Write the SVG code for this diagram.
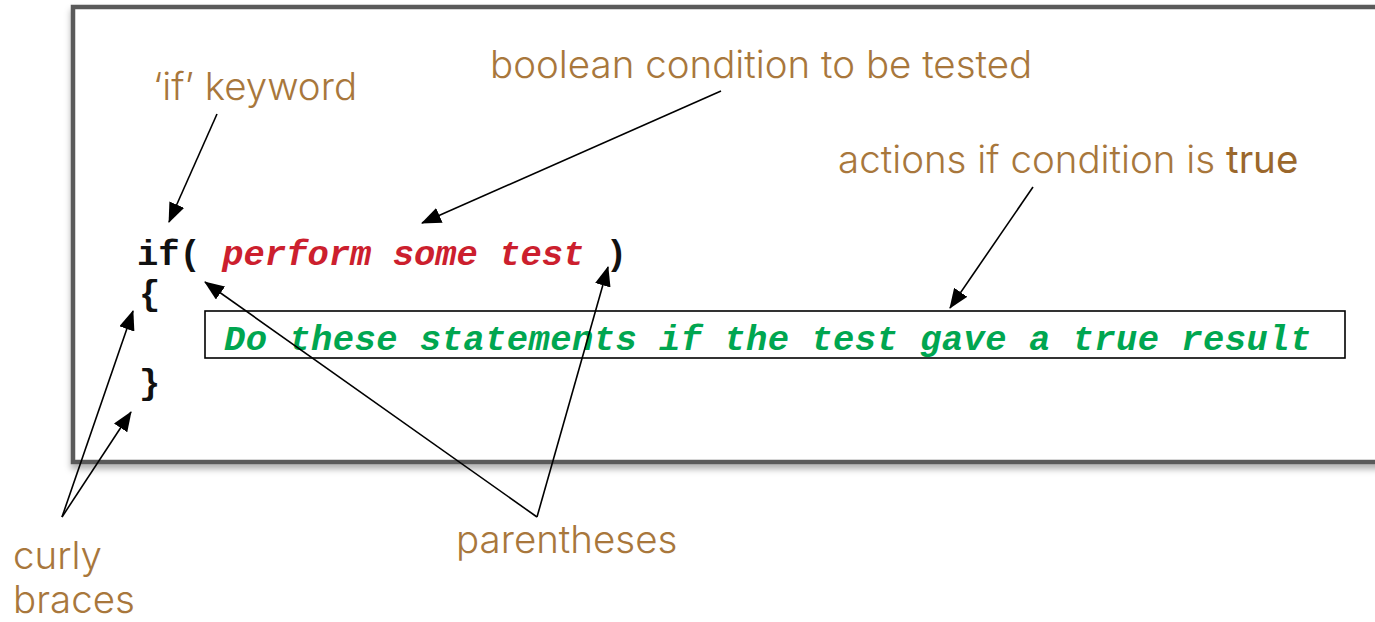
<svg xmlns="http://www.w3.org/2000/svg" width="1375" height="622" viewBox="0 0 1375 622">
  <style>
    .label { font-family: Inter, "Liberation Sans", sans-serif; font-weight: 300; font-size: 38.5px; fill: #A8773C; }
    .strong { font-weight: 400; fill: #9A672C; }
    .code { font-family: "Liberation Mono", "Courier New", monospace; font-weight: bold; font-size: 35.5px; }
    .kw { fill: #111111; }
    .cond { fill: #CC1F2E; font-style: italic; }
    .body { fill: #00A650; font-style: italic; letter-spacing: 0.45px; }
    .conn line { stroke: #000000; stroke-width: 1.6; fill: none; }
  </style>
  <defs>
    <filter id="frameShadow" x="-5%" y="-5%" width="110%" height="120%">
      <feDropShadow dx="0" dy="5" stdDeviation="3" flood-color="#000000" flood-opacity="0.3"/>
    </filter>
    <marker id="head" viewBox="0 0 20 16" refX="19" refY="8" markerWidth="20" markerHeight="16" markerUnits="userSpaceOnUse" orient="auto">
      <path d="M0,0 L20,8 L0,16 Z" fill="#000000"/>
    </marker>
  </defs>

  <rect width="1375" height="622" fill="#ffffff"/>

  <!-- outer frame (open to the right) -->
  <g id="frame">
    <rect x="73" y="7" width="1340" height="455" fill="#ffffff" stroke="#5a5a5a" stroke-width="4.5" filter="url(#frameShadow)"/>
  </g>

  <!-- code block -->
  <g id="code-if">
    <text class="code kw" x="137" y="265">if( <tspan class="cond">perform some test</tspan> )</text>
  </g>
  <g id="code-open-brace">
    <text class="code kw" x="139" y="305">{</text>
  </g>
  <g id="code-body">
    <rect x="205" y="311" width="1140" height="47" fill="#ffffff" stroke="#000000" stroke-width="1.6"/>
    <text class="code body" x="224" y="350">Do these statements if the test gave a true result</text>
  </g>
  <g id="code-close-brace">
    <text class="code kw" x="139" y="394">}</text>
  </g>

  <!-- annotation labels -->
  <g id="label-keyword">
    <text class="label" x="153" y="100">‘if’ keyword</text>
  </g>
  <g id="label-condition">
    <text class="label" x="490" y="78">boolean condition to be tested</text>
  </g>
  <g id="label-actions">
    <text class="label" x="838" y="173">actions if condition is <tspan class="strong">true</tspan></text>
  </g>
  <g id="label-braces">
    <text class="label" x="13" y="569">curly</text>
    <text class="label" x="13" y="613">braces</text>
  </g>
  <g id="label-parentheses">
    <text class="label" x="456" y="553">parentheses</text>
  </g>

  <!-- connectors -->
  <g id="connectors" class="conn">
    <line x1="217" y1="114" x2="169" y2="222" marker-end="url(#head)"/>
    <line x1="721" y1="91" x2="422" y2="223" marker-end="url(#head)"/>
    <line x1="1033" y1="187" x2="950" y2="308" marker-end="url(#head)"/>
    <line x1="62" y1="517" x2="133" y2="311" marker-end="url(#head)"/>
    <line x1="62" y1="517" x2="131" y2="412" marker-end="url(#head)"/>
    <line x1="537" y1="517" x2="205" y2="282" marker-end="url(#head)"/>
    <line x1="537" y1="517" x2="608" y2="267" marker-end="url(#head)"/>
  </g>
</svg>
